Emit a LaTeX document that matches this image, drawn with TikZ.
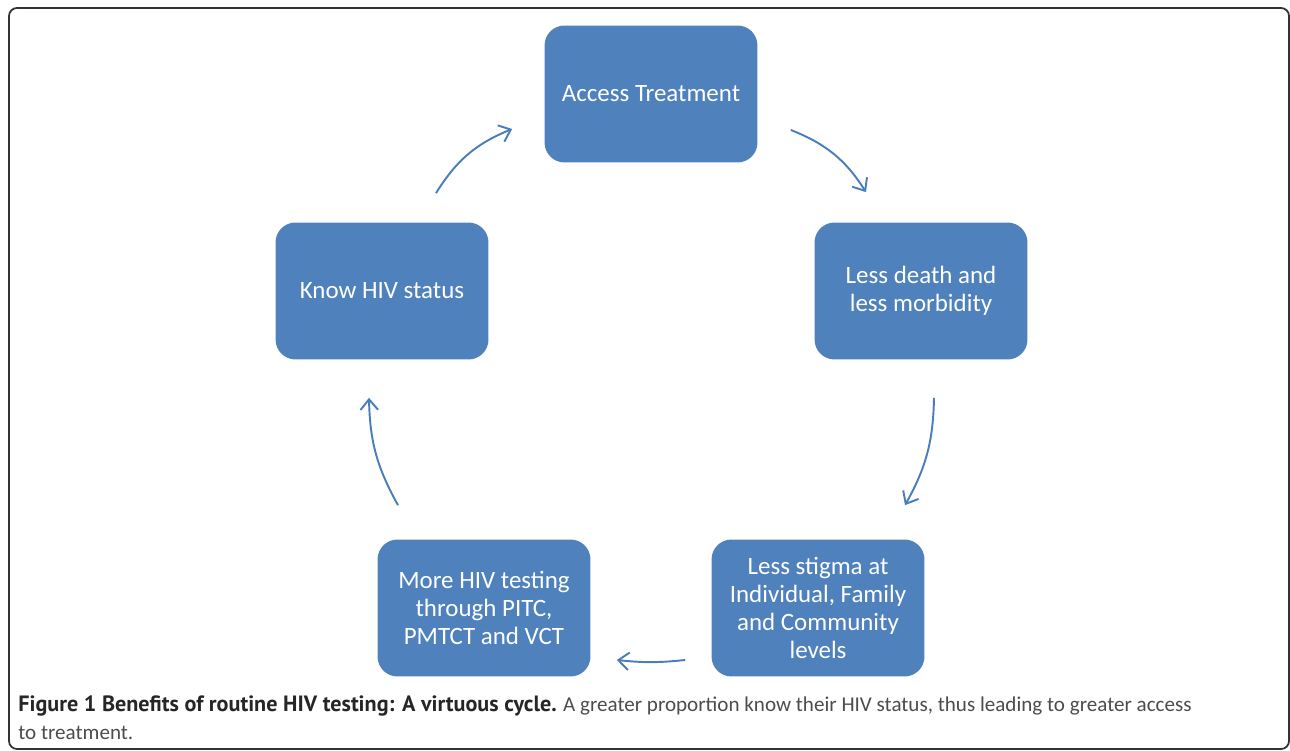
\documentclass[tikz,border=0pt]{standalone}
\usepackage{fontspec}
\setmainfont{Carlito}
\newfontfamily\capfont{PT Sans}
\usetikzlibrary{arrows.meta,calc}

\definecolor{boxblue}{RGB}{79,129,189}
\definecolor{arrowblue}{RGB}{74,126,187}

\begin{document}
\begin{tikzpicture}[x=0.02cm,y=0.02cm,
  stage/.style={fill=boxblue, text=white, rounded corners=0.4cm,
    minimum width=4.26cm, minimum height=2.74cm, align=center,
    font=\fontsize{14.2}{15.8}\selectfont},
  cyc/.style={draw=arrowblue, line width=1.1pt,
    -{Straight Barb[length=6pt,width=10pt]}}]

\useasboundingbox (0,0) rectangle (1290,750);

%--- Frame ---
\draw[black!80, line width=1pt, rounded corners=0.16cm] (9,1) rectangle (1289,742);

%--- Stages of the cycle ---
\node[stage] (access)  at (651,656) {Access Treatment};
\node[stage] (death)   at (921,459) {Less death and\\less morbidity};
\node[stage] (stigma)  at (818,142) {Less stigma at\\Individual, Family\\and Community\\levels};
\node[stage] (testing) at (484,142) {More HIV testing\\through PITC,\\PMTCT and VCT};
\node[stage] (know)    at (382,459) {Know HIV status};

%--- Arrows (clockwise) ---
\draw[cyc] ($(know.north)+(54,29)$) to[bend left=18] ($(access.west)+(-32,-35)$);
\draw[cyc] ($(access.east)+(33,-36)$) to[bend left=18] ($(death.north)+(-55,30)$);
\draw[cyc] ($(death.south)+(13,-38)$) to[bend left=14] ($(stigma.north)+(87,34)$);
\draw[cyc] ($(stigma.west)+(-26,-52)$) to[bend left=6] ($(testing.east)+(26,-52)$);
\draw[cyc] ($(testing.north)+(-86,34)$) to[bend left=14] ($(know.south)+(-13,-38)$);

%--- Caption (base = last line) ---
\node[anchor=base west, align=left, inner sep=0, text=black!85,
  font=\fontsize{12}{15.4}\selectfont] (caption) at (18,11)
  {{\capfont\bfseries\fontsize{12.6}{15.4}\selectfont Figure 1 Benefits of routine HIV testing: A virtuous cycle.}
   {\color{black!70}A greater proportion know their HIV status, thus leading to greater access}\\
   {\color{black!70}to treatment.}};

\end{tikzpicture}
\end{document}
